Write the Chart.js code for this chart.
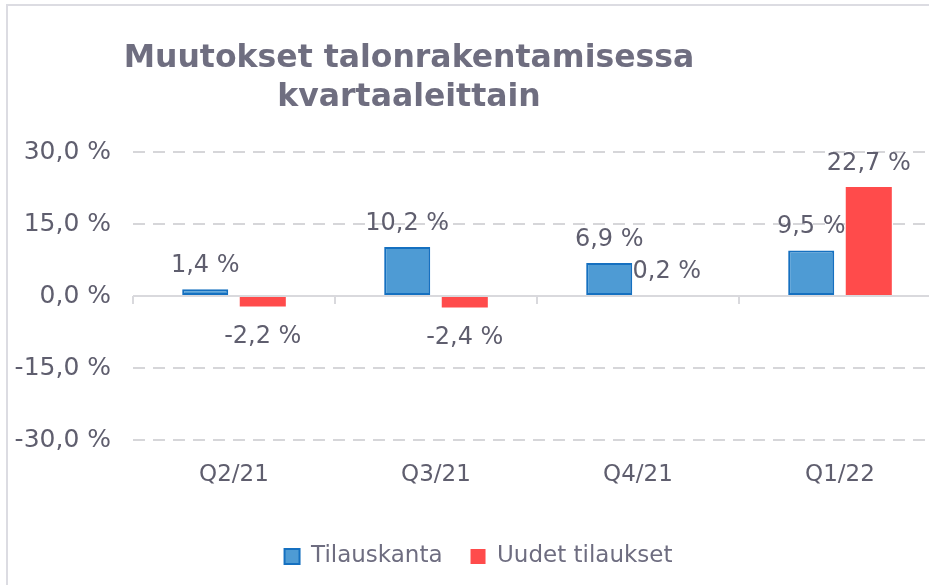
<!DOCTYPE html>
<html>
<head>
<meta charset="utf-8">
<script src="https://cdn.jsdelivr.net/npm/chart.js@4.4.1/dist/chart.umd.min.js"></script>
<style>
html, body { margin: 0; padding: 0; background: #fff; overflow: hidden; }
#wrap { position: relative; width: 945px; height: 585px; }
#frame { position: absolute; left: 6px; top: 4px; width: 950px; height: 600px;
         border-left: 2px solid #dcdce2; border-top: 2px solid #dcdce2; }
canvas { position: absolute; left: 0; top: 0; }
</style>
</head>
<body>
<div id="wrap">
  <div id="frame"></div>
  <canvas id="chart_talonrakentaminen" width="945" height="585"></canvas>
</div>
<script>
var categories = ['Q2/21', 'Q3/21', 'Q4/21', 'Q1/22'];
var tilauskanta = [1.4, 10.2, 6.9, 9.5];
var uudetTilaukset = [-2.2, -2.4, 0.2, 22.7];
var yTicks = [-30, -15, 0, 15, 30];
var titleLines = ['Muutokset talonrakentamisessa', 'kvartaaleittain'];

var FONT = '"DejaVu Sans", Verdana, sans-serif';
var TEXT = '#5f5e6e';

function pct(v) {
    return v.toFixed(1).replace('.', ',') + ' %';
}

var chart_talonrakentaminen = new Chart(document.getElementById('chart_talonrakentaminen'), {
    type: 'bar',
    data: {
        labels: categories,
        datasets: [
            {
                label: 'Tilauskanta',
                data: tilauskanta,
                backgroundColor: '#4e9bd4',
                borderColor: '#1570c0',
                borderWidth: 2,
                borderSkipped: false,
                categoryPercentage: 0.57,
                barPercentage: 0.8
            },
            {
                label: 'Uudet tilaukset',
                data: uudetTilaukset,
                backgroundColor: '#ff4b4b',
                borderColor: '#ff4b4b',
                borderWidth: 0,
                categoryPercentage: 0.57,
                barPercentage: 0.8
            }
        ]
    },
    options: {
        animation: false,
        responsive: false,
        layout: { padding: { left: 0, right: 4, top: 152, bottom: 0 } },
        plugins: {
            title: { display: false },
            tooltip: { enabled: false },
            legend: {
                position: 'bottom',
                labels: {
                    boxWidth: 15,
                    boxHeight: 15,
                    padding: 28,
                    color: '#6e6d80',
                    font: { family: FONT, size: 23 }
                }
            }
        },
        scales: {
            x: {
                grid: { display: false },
                border: { display: false },
                ticks: { color: TEXT, font: { family: FONT, size: 23 }, padding: 13 },
                afterFit: function (s) { s.height = 77; }
            },
            y: {
                min: -30,
                max: 30,
                afterBuildTicks: function (s) {
                    s.ticks = yTicks.map(function (v) { return { value: v }; });
                },
                grid: {
                    drawTicks: false,
                    lineWidth: 2,
                    color: function (c) { return c.tick && c.tick.value === 0 ? 'rgba(0,0,0,0)' : '#d6d6d9'; }
                },
                border: { display: false, dash: [12, 8] },
                ticks: {
                    padding: 22,
                    color: TEXT,
                    font: { family: FONT, size: 25 },
                    callback: function (v) { return pct(v); }
                },
                afterFit: function (s) { s.width = 133; }
            }
        }
    },
    plugins: [{
        id: 'legendFit',
        beforeInit: function (chart) {
            var fit = chart.legend.fit;
            chart.legend.fit = function () {
                fit.bind(chart.legend)();
                this.height += 7;
            };
        },
        afterLayout: function (chart) {
            chart.legend.left += 8;
            chart.legend.right += 8;
        }
    }, {
        id: 'zeroLine',
        beforeDatasetsDraw: function (chart) {
            var ctx = chart.ctx, a = chart.chartArea;
            var xs = chart.scales.x, y0 = chart.scales.y.getPixelForValue(0);
            ctx.save();
            ctx.strokeStyle = '#d9d9dd';
            ctx.lineWidth = 2;
            ctx.beginPath();
            ctx.moveTo(a.left, y0);
            ctx.lineTo(a.right, y0);
            for (var i = 0; i <= categories.length; i++) {
                var x = i === 0 ? a.left : (i === categories.length ? a.right :
                    (xs.getPixelForValue(i - 1) + xs.getPixelForValue(i)) / 2);
                ctx.moveTo(x, y0);
                ctx.lineTo(x, y0 + 8);
            }
            ctx.stroke();
            ctx.restore();
        }
    }, {
        id: 'valueLabels',
        afterDatasetsDraw: function (chart) {
            var ctx = chart.ctx;
            ctx.save();
            ctx.font = '24px ' + FONT;
            ctx.fillStyle = TEXT;
            ctx.textAlign = 'center';
            ctx.textBaseline = 'alphabetic';
            chart.data.datasets.forEach(function (ds, d) {
                chart.getDatasetMeta(d).data.forEach(function (el, i) {
                    var v = ds.data[i];
                    var y = v >= 0 ? el.y - 17 : el.y + 36;
                    ctx.fillText(pct(v), el.x, y);
                });
            });
            ctx.restore();
        }
    }, {
        id: 'chartTitle',
        afterDraw: function (chart) {
            var ctx = chart.ctx;
            ctx.save();
            ctx.font = 'bold 31.5px "DejaVu Sans", Verdana, sans-serif';
            ctx.fillStyle = '#6f6e80';
            ctx.textAlign = 'center';
            ctx.textBaseline = 'alphabetic';
            ctx.fillText(titleLines[0], 409, 67);
            ctx.fillText(titleLines[1], 409, 106);
            ctx.restore();
        }
    }]
});
</script>
</body>
</html>
